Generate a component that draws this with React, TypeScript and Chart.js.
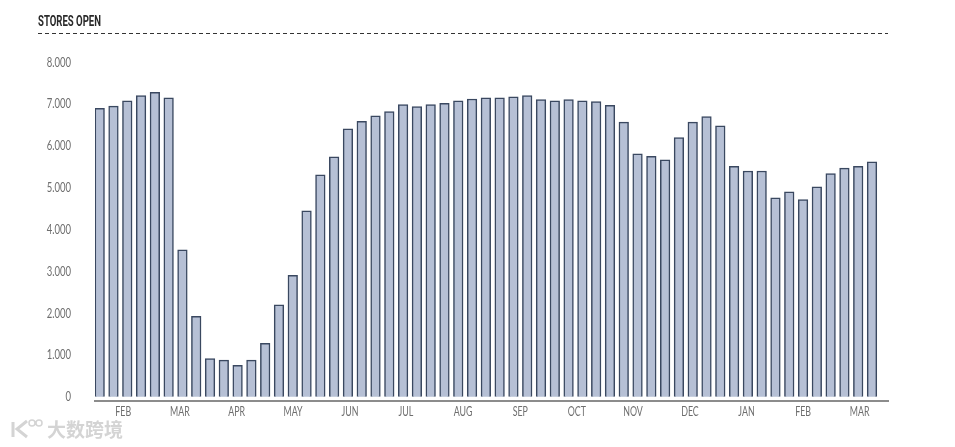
import React, { useEffect, useRef } from "react";
import { Chart, registerables } from "chart.js";

Chart.register(...registerables);

const storesOpen = [
  6895, 6945, 7075, 7195, 7275, 7145, 3515, 1925, 915, 875, 755, 875, 1275, 2195, 2905, 4445, 5305, 5735, 6405,
  6585, 6715, 6815, 6985, 6935, 6985, 7015, 7075, 7115, 7145, 7145, 7165, 7195, 7105, 7075, 7105, 7075, 7055,
  6965, 6565, 5805, 5745, 5665, 6195, 6565, 6695, 6475, 5505, 5395, 5395, 4755, 4895, 4715, 5015, 5335, 5465,
  5505, 5615,
];
const monthLabels = ["FEB", "MAR", "APR", "MAY", "JUN", "JUL", "AUG", "SEP", "OCT", "NOV", "DEC", "JAN", "FEB", "MAR"];
const monthPositions = [1.71, 5.82, 9.93, 14.02, 18.15, 22.2, 26.35, 30.5, 34.6, 38.67, 42.8, 46.9, 51, 55.1];
const yTicks = [0, 1000, 2000, 3000, 4000, 5000, 6000, 7000, 8000];
const title = "STORES OPEN";
const watermark = "大数跨境";

const tickFont = "Lato, Roboto, sans-serif";

const headerPlugin = {
  id: "header",
  beforeDraw(chart: any) {
    // The reference uses a condensed face, which is not installed: squeeze the text horizontally.
    const ctx = chart.ctx;
    if (!ctx.__condensed) {
      const fill = ctx.fillText;
      ctx.fillText = function (t: string, x: number, y: number, m?: number) {
        fill.call(ctx, t, x, y, m ?? ctx.measureText(t).width * 0.68);
      };
      ctx.__condensed = true;
    }
  },
  afterDraw(chart: any) {
    const { ctx } = chart;
    ctx.save();
    ctx.fillStyle = "#2a2a2a";
    ctx.font = "bold 15px Roboto, sans-serif";
    ctx.textBaseline = "middle";
    ctx.textAlign = "left";
    ctx.fillText(title, 38, 22, 63);
    ctx.strokeStyle = "#333333";
    ctx.lineWidth = 1;
    ctx.setLineDash([4, 3]);
    ctx.beginPath();
    ctx.moveTo(38, 33.5);
    ctx.lineTo(888, 33.5);
    ctx.stroke();
    ctx.setLineDash([]);
    ctx.fillStyle = "#d4d4d4";
    ctx.font = 'bold 19px "Noto Sans CJK SC", sans-serif';
    ctx.fillText(watermark, 47, 430, 78);
    ctx.strokeStyle = "#d4d4d4";
    ctx.lineWidth = 3;
    ctx.beginPath();
    ctx.moveTo(13, 422);
    ctx.lineTo(13, 437);
    ctx.moveTo(27, 421);
    ctx.lineTo(17, 429);
    ctx.lineTo(27, 437);
    ctx.stroke();
    ctx.lineWidth = 1.5;
    ctx.beginPath();
    ctx.arc(32, 423, 3, 0, Math.PI * 2);
    ctx.moveTo(42, 423);
    ctx.arc(39, 423, 3, 0, Math.PI * 2);
    ctx.stroke();
    ctx.restore();
  },
};

export default function App() {
  const ref = useRef<HTMLCanvasElement>(null);
  useEffect(() => {
    const chart = new Chart(ref.current!, {
      type: "bar",
      data: {
        datasets: [
          {
            data: storesOpen.map((y, x) => ({ x, y })),
            backgroundColor: "#b6c0d5",
            borderColor: "#3a4860",
            borderWidth: 1.5,
            barThickness: 9.6,
          },
        ],
      },
      plugins: [headerPlugin],
      options: {
        animation: false,
        responsive: false,
        layout: { padding: { left: 0, right: 67, top: 62, bottom: 0 } },
        plugins: { legend: { display: false }, tooltip: { enabled: false } },
        scales: {
          x: {
            type: "linear",
            offset: false,
            min: -0.34,
            max: 57.16,
            afterBuildTicks(axis: any) {
              axis.ticks = monthPositions.map((value) => ({ value }));
            },
            ticks: {
              autoSkip: false,
              maxRotation: 0,
              color: "#6e6e6e",
              font: { family: tickFont, size: 13 },
              padding: 3,
              callback: (_v: any, i: number) => monthLabels[i],
            },
            grid: { display: false, drawTicks: false },
            border: { color: "#8c8c8c", width: 2 },
            afterFit(axis: any) {
              axis.height = 46;
            },
          },
          y: {
            type: "linear",
            min: -100,
            max: 8000,
            afterBuildTicks(axis: any) {
              axis.ticks = yTicks.map((value) => ({ value }));
            },
            ticks: {
              color: "#6e6e6e",
              font: { family: tickFont, size: 14 },
              padding: 24,
              callback: (v: any) => (v === 0 ? "0" : `${v / 1000}.000`),
            },
            grid: { display: false, drawTicks: false },
            border: { display: false },
            afterFit(axis: any) {
              axis.width = 95;
            },
          },
        },
      },
    } as any);
    return () => chart.destroy();
  }, []);
  return (
    <div style={{ position: "fixed", left: 0, top: 0, width: 955, height: 447, background: "#fff" }}>
      <canvas ref={ref} width={955} height={447} style={{ display: "block" }} />
    </div>
  );
}
